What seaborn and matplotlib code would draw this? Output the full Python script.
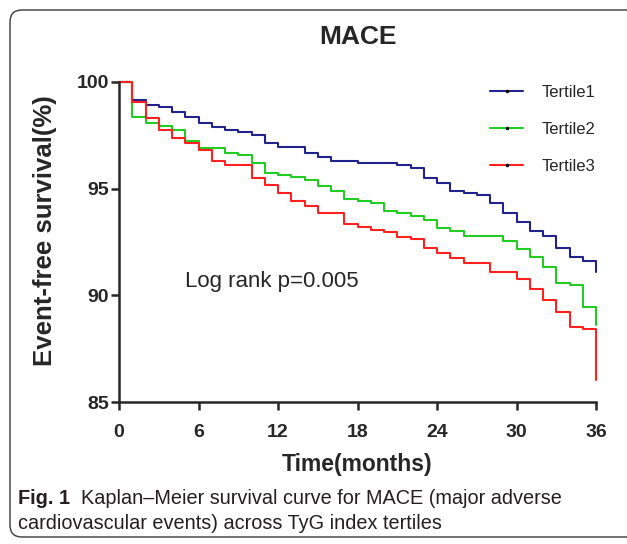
import pandas as pd
import seaborn as sns
import matplotlib.pyplot as plt
from matplotlib.lines import Line2D
from matplotlib.patches import FancyBboxPatch
from matplotlib.transforms import IdentityTransform

# Dados (leitura aproximada da figura), sobrevida em cada mês 0..36
meses = list(range(0, 37))
tertil1 = [100, 99.16, 98.92, 98.81, 98.58, 98.34, 98.09, 97.87, 97.75, 97.64,
           97.52, 97.13, 96.93, 96.93, 96.66, 96.47, 96.31, 96.31, 96.19, 96.19,
           96.19, 96.11, 95.95, 95.48, 95.28, 94.89, 94.78, 94.70, 94.34, 93.87,
           93.45, 93.03, 92.78, 92.20, 91.81, 91.62, 91.11]
tertil2 = [100, 98.34, 98.06, 97.95, 97.75, 97.25, 96.92, 96.92, 96.66, 96.56,
           96.19, 95.72, 95.64, 95.53, 95.41, 95.13, 94.91, 94.52, 94.42, 94.31,
           93.97, 93.84, 93.72, 93.53, 93.14, 93.03, 92.78, 92.78, 92.78, 92.56,
           92.16, 91.81, 91.34, 90.59, 90.48, 89.47, 88.61]
tertil3 = [100, 99.05, 98.33, 97.75, 97.39, 97.16, 96.81, 96.31, 96.11, 96.11,
           95.48, 95.17, 94.81, 94.44, 94.19, 93.84, 93.84, 93.34, 93.19, 93.06,
           92.98, 92.72, 92.63, 92.20, 91.97, 91.73, 91.50, 91.50, 91.11, 91.11,
           90.77, 90.28, 89.78, 89.20, 88.53, 88.42, 86.03]
grupos = ['Tertile1', 'Tertile2', 'Tertile3']
cores = {'Tertile1': '#22228c', 'Tertile2': '#22cc22', 'Tertile3': '#ff2020'}
x_ticks = [0, 6, 12, 18, 24, 30, 36]
y_ticks = [85, 90, 95, 100]

df = pd.DataFrame({
    'Mes': meses * 3,
    'Sobrevida': tertil1 + tertil2 + tertil3,
    'Grupo': [g for g in grupos for _ in meses],
})

sns.set_style('ticks')
plt.rcParams['font.family'] = ['Liberation Sans', 'DejaVu Sans']

fig = plt.figure(figsize=(6.27, 5.44), dpi=100)
ax = fig.add_axes([0.1898, 0.2610, 0.7608, 0.5883])

sns.lineplot(data=df, x='Mes', y='Sobrevida', hue='Grupo', palette=cores,
             drawstyle='steps-post', linewidth=1.5, legend=False, ax=ax,
             clip_on=False)

ax.set_xlim(0, 36)
ax.set_ylim(85, 100)
ax.set_xticks(x_ticks)
ax.set_yticks(y_ticks)
sns.despine(ax=ax)
for s in ['left', 'bottom']:
    ax.spines[s].set_linewidth(1.8)
ax.tick_params(axis='both', length=5.8, width=1.8, labelsize=14)
ax.tick_params(axis='x', pad=10)
ax.tick_params(axis='y', pad=1.5)
for lbl in ax.get_xticklabels() + ax.get_yticklabels():
    lbl.set_fontweight('bold')

ax.set_title('MACE', fontsize=19, fontweight='bold', pad=27)
ax.set_xlabel('Time(months)', fontsize=16.5, fontweight='bold')
ax.set_ylabel('Event-free survival(%)', fontsize=18.5, fontweight='bold')
ax.xaxis.set_label_coords(0.5, -0.158)
ax.yaxis.set_label_coords(-0.13, 0.535)

ax.text(5.0, 90.67, 'Log rank p=0.005', fontsize=16, va='center', ha='left')

# Legenda
handles = [Line2D([0], [0], color=cores[g], lw=1.5, marker='.', markersize=3,
                  markerfacecolor='black', markeredgecolor='black') for g in grupos]
ax.legend(handles, grupos, loc='upper left', bbox_to_anchor=(0.778, 0.99),
          frameon=False, fontsize=12, handlelength=2.0, handletextpad=1.1,
          labelspacing=1.3, borderpad=0, borderaxespad=0)

# Moldura arredondada
moldura = FancyBboxPatch((10, 7), 660, 527, boxstyle='round,pad=0,rounding_size=12',
                         transform=IdentityTransform(), fill=False,
                         edgecolor='#3a3a3a', linewidth=1.0)
fig.add_artist(moldura)

# Legenda da figura
tam_cap = 14.3
r = fig.canvas.get_renderer()
t1 = fig.text(18 / 627, 1 - 504 / 544, 'Fig. 1', fontsize=tam_cap, fontweight='bold',
              color='#231f20', va='baseline')
larg = t1.get_window_extent(renderer=r).width
fig.text((18 + larg + 11) / 627, 1 - 504 / 544,
         'Kaplan–Meier survival curve for MACE (major adverse',
         fontsize=tam_cap, color='#231f20', va='baseline')
fig.text(18 / 627, 1 - 529 / 544, 'cardiovascular events) across TyG index tertiles',
         fontsize=tam_cap, color='#231f20', va='baseline')

plt.savefig('out.png', dpi=100)
